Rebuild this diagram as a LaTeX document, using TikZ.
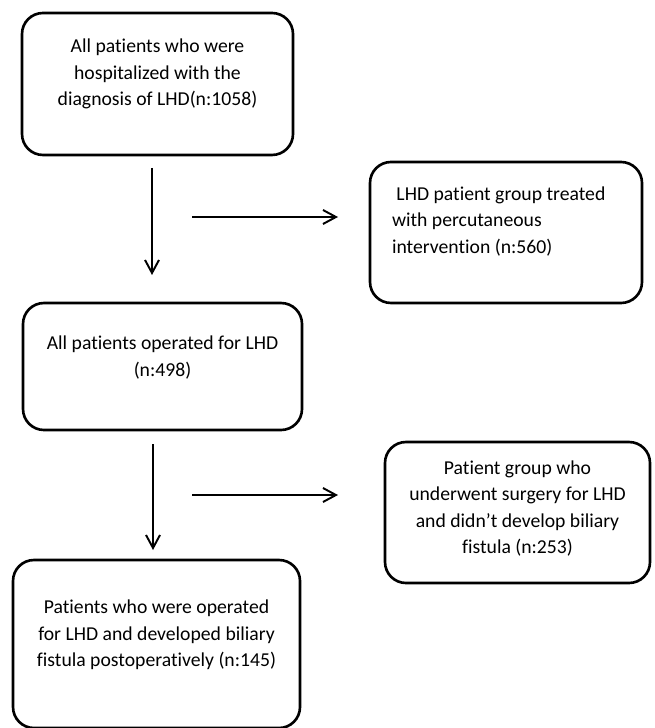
\documentclass[tikz,border=0pt]{standalone}
\usepackage{fontspec}
\setmainfont{Carlito}[RawFeature={-liga;-clig;-dlig;-calt}]
\usepackage{tikz}
\usetikzlibrary{arrows.meta}
\tikzset{>={Straight Barb[length=2.6mm,width=2.8mm]}}

\begin{document}
\begin{tikzpicture}
        \tikzstyle{every node}=[font=\fontsize{11.2}{15}\selectfont]
        \tikzstyle{box}=[rectangle, draw, line width=1.5pt, rounded corners=0.42cm, inner sep=0pt]
        \tikzstyle{txt}=[align=center, inner sep=0pt]
        \useasboundingbox (0,0) rectangle (13.08,-14.56);

        % left column
        \node[box, minimum width=5.42cm, minimum height=2.84cm] (hosp) at (3.15,-1.68) {};
        \node[txt] (hosptxt) at ([yshift=0.2cm]hosp.center)
                {All patients who were\\hospitalized with the\\diagnosis of LHD(n:1058)};

        \node[box, minimum width=5.58cm, minimum height=2.54cm] (oper) at (3.25,-7.33) {};
        \node[txt] (opertxt) at ([yshift=0.18cm]oper.center)
                {All patients operated for LHD\\(n:498)};

        \node[box, minimum width=5.74cm, minimum height=3.36cm] (fist) at (3.13,-12.88) {};
        \node[txt] (fisttxt) at ([yshift=0.18cm]fist.center)
                {Patients who were operated\\for LHD and developed biliary\\fistula postoperatively (n:145)};

        % right column
        \node[box, minimum width=5.44cm, minimum height=2.82cm] (perc) at (10.12,-4.65) {};
        \node[txt, align=left, anchor=west] (perctxt) at ([xshift=0.46cm,yshift=0.22cm]perc.west)
                {\ LHD patient group treated\\with percutaneous\\intervention (n:560)};

        \node[box, minimum width=5.3cm, minimum height=2.82cm] (nofist) at (10.35,-10.25) {};
        \node[txt] (nofisttxt) at ([yshift=0.08cm]nofist.center)
                {Patient group who\\underwent surgery for LHD\\and didn’t develop biliary\\fistula (n:253)};

        % arrows
        \coordinate (v1s) at (3.04,-3.36);
        \coordinate (v1e) at (3.04,-5.5);
        \coordinate (h1s) at (3.84,-4.34);
        \coordinate (h1e) at (6.76,-4.34);
        \coordinate (v2s) at (3.06,-8.88);
        \coordinate (v2e) at (3.06,-11.0);
        \coordinate (h2s) at (3.84,-9.9);
        \coordinate (h2e) at (6.76,-9.9);
        \draw[->, line width=1.1pt] (v1s) -- (v1e);
        \draw[->, line width=1.1pt] (h1s) -- (h1e);
        \draw[->, line width=1.1pt] (v2s) -- (v2e);
        \draw[->, line width=1.1pt] (h2s) -- (h2e);
\end{tikzpicture}
\end{document}
